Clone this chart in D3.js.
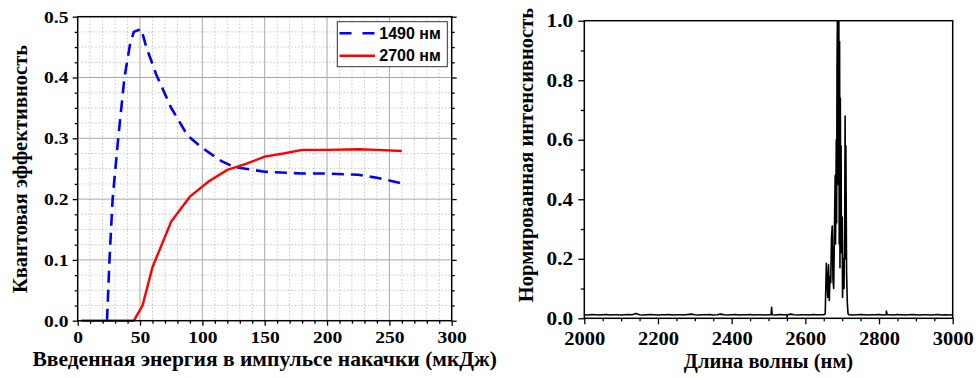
<!DOCTYPE html>
<html>
<head>
<meta charset="utf-8">
<script src="https://cdn.jsdelivr.net/npm/d3@7"></script>
<style>
  body { margin: 0; background: #fff; }
  svg text { font-family: 'Liberation Serif', 'Times New Roman', 'DejaVu Serif', serif; font-weight: 700; fill: #000; }
  svg .legend text { font-family: 'Liberation Sans', Arial, sans-serif; }
</style>
</head>
<body>
<svg id="chart" width="976" height="378"></svg>
<script>
// left panel: quantum efficiency vs pump energy
const energy1490 = [23.5, 25.5, 28, 32.5, 37.5, 42, 45, 51, 55, 63, 75, 88, 100, 115, 125, 150, 180, 200, 225, 240, 260];
const eff1490 = [0, 0.1, 0.2, 0.3, 0.4, 0.455, 0.475, 0.48, 0.45, 0.405, 0.35, 0.305, 0.284, 0.263, 0.253, 0.245, 0.242, 0.242, 0.24, 0.235, 0.226];
const energy2700 = [3, 45, 52, 60, 75, 90, 105, 120, 135, 150, 165, 180, 200, 225, 240, 260];
const eff2700 = [0, 0, 0.025, 0.088, 0.163, 0.204, 0.229, 0.248, 0.258, 0.27, 0.275, 0.281, 0.281, 0.282, 0.281, 0.279];
const legendLabels = ['1490 нм', '2700 нм'];

// right panel: normalized spectrum
const baseWlLeft = d3.range(2000, 2650, 10);
const baseIntLeft = [
  0.012, 0.011, 0.013, 0.012, 0.011, 0.012, 0.013, 0.011, 0.012, 0.012,
  0.011, 0.012, 0.013, 0.012, 0.016, 0.012, 0.011, 0.012, 0.013, 0.012,
  0.011, 0.012, 0.012, 0.013, 0.011, 0.012, 0.012, 0.011, 0.013, 0.014,
  0.012, 0.011, 0.012, 0.012, 0.013, 0.011, 0.012, 0.014, 0.012, 0.011,
  0.012, 0.013, 0.011, 0.012, 0.012, 0.013, 0.011, 0.012, 0.012, 0.011,
  0.012, 0.012, 0.011, 0.013, 0.012, 0.011, 0.014, 0.012, 0.011, 0.012,
  0.012, 0.011, 0.013, 0.012, 0.012,
];
const baseWlRight = d3.range(2720, 3001, 10);
const baseIntRight = [
  0.012, 0.011, 0.012, 0.013, 0.012, 0.011, 0.012, 0.012, 0.013, 0.011,
  0.012, 0.012, 0.011, 0.013, 0.012, 0.011, 0.012, 0.013, 0.012, 0.011,
  0.012, 0.012, 0.011, 0.012, 0.013, 0.011, 0.012, 0.011, 0.012,
];
const spikeWl = [2507, 2508.5, 2510, 2548, 2550, 2552, 2818, 2820, 2822];
const spikeInt = [0.012, 0.037, 0.012, 0.012, 0.004, 0.012, 0.012, 0.024, 0.012];
const peakWl = [2650, 2654, 2657, 2659, 2661, 2663, 2665, 2667, 2669, 2671, 2673, 2675, 2677, 2679, 2681, 2682,
  2684, 2685, 2686, 2687, 2688, 2689, 2690, 2691, 2692, 2693, 2694, 2695, 2696, 2697, 2698, 2700, 2701,
  2703, 2705, 2707, 2708, 2709, 2710, 2712, 2714, 2716, 2718];
const peakInt = [0.012, 0.015, 0.185, 0.12, 0.07, 0.18, 0.06, 0.14, 0.12, 0.27, 0.31, 0.13, 0.10, 0.30, 0.48, 0.25,
  0.60, 0.32, 0.85, 1.0, 0.45, 1.0, 0.92, 1.0, 0.25, 0.93, 0.17, 0.74, 0.30, 0.58, 0.22, 0.34, 0.07,
  0.20, 0.10, 0.35, 0.68, 0.20, 0.58, 0.15, 0.05, 0.015, 0.012];

const serif = "'Liberation Serif', 'Times New Roman', 'DejaVu Serif', serif";
const svg = d3.select('#chart');

function addTicks(g, axis, scaleX) {
  g.call(axis);
  g.attr('font-family', null).attr('font-size', null);
  g.select('.domain').remove();
  g.selectAll('.tick line').attr('stroke', '#000').attr('stroke-width', 1.3);
  g.selectAll('.tick text').attr('transform', `scale(${scaleX},1)`)
    .style('font-family', serif).style('font-weight', 700);
}

// ---------- left panel ----------
const L = { x: 77.7, y: 16.7, w: 374, h: 304 };
const xL = d3.scaleLinear().domain([0, 300]).range([L.x, L.x + L.w]);
const yL = d3.scaleLinear().domain([0, 0.5]).range([L.y + L.h, L.y]);

const xMinorL = d3.range(0, 301, 10).filter((d) => d % 50 !== 0);
const yMinorL = d3.range(0, 20).map((i) => i * 0.025).filter((d, i) => i % 4 !== 0);

const gridL = svg.append('g');
gridL.selectAll('.vminor').data(xMinorL).join('line')
  .attr('x1', (d) => xL(d)).attr('x2', (d) => xL(d))
  .attr('y1', L.y).attr('y2', L.y + L.h)
  .attr('stroke', '#c0c0c0').attr('stroke-width', 0.9).attr('stroke-dasharray', '1.5,2');
gridL.selectAll('.hminor').data(yMinorL).join('line')
  .attr('y1', (d) => yL(d)).attr('y2', (d) => yL(d))
  .attr('x1', L.x).attr('x2', L.x + L.w)
  .attr('stroke', '#c0c0c0').attr('stroke-width', 0.9).attr('stroke-dasharray', '1.5,2');
gridL.selectAll('.vmajor').data([50, 100, 150, 200, 250]).join('line')
  .attr('x1', (d) => xL(d)).attr('x2', (d) => xL(d))
  .attr('y1', L.y).attr('y2', L.y + L.h)
  .attr('stroke', '#a8a8a8').attr('stroke-width', 1);
gridL.selectAll('.hmajor').data([0.1, 0.2, 0.3, 0.4]).join('line')
  .attr('y1', (d) => yL(d)).attr('y2', (d) => yL(d))
  .attr('x1', L.x).attr('x2', L.x + L.w)
  .attr('stroke', '#a8a8a8').attr('stroke-width', 1);

const lineL = (xs, ys) => d3.line().x((d, i) => xL(xs[i])).y((d, i) => yL(ys[i]))(xs);

svg.append('path').attr('d', lineL(energy1490, eff1490))
  .attr('fill', 'none').attr('stroke', '#0000ff').attr('stroke-width', 2.6)
  .attr('stroke-dasharray', '12,7');
svg.append('path').attr('d', lineL(energy2700, eff2700))
  .attr('fill', 'none').attr('stroke', '#ff0000').attr('stroke-width', 2.4);

svg.append('rect').attr('x', L.x).attr('y', L.y).attr('width', L.w).attr('height', L.h)
  .attr('fill', 'none').attr('stroke', '#000').attr('stroke-width', 1.5);

addTicks(svg.append('g').attr('transform', `translate(0,${L.y + L.h})`),
  d3.axisBottom(xL).tickValues([0, 50, 100, 150, 200, 250, 300]).tickFormat(d3.format('d'))
    .tickSize(5).tickPadding(5), 1.15);
addTicks(svg.append('g').attr('transform', `translate(0,${L.y + L.h})`),
  d3.axisBottom(xL).tickValues(xMinorL).tickFormat('').tickSize(3), 1);
addTicks(svg.append('g').attr('transform', `translate(${L.x},0)`),
  d3.axisLeft(yL).tickValues([0, 0.1, 0.2, 0.3, 0.4, 0.5]).tickFormat(d3.format('.1f'))
    .tickSize(5).tickPadding(3), 1.15);
addTicks(svg.append('g').attr('transform', `translate(${L.x},0)`),
  d3.axisLeft(yL).tickValues(yMinorL).tickFormat('').tickSize(3), 1);
addTicks(svg.append('g').attr('transform', `translate(${L.x + L.w},0)`),
  d3.axisRight(yL).tickValues([0, 0.1, 0.2, 0.3, 0.4, 0.5]).tickFormat('').tickSize(5), 1);
addTicks(svg.append('g').attr('transform', `translate(${L.x + L.w},0)`),
  d3.axisRight(yL).tickValues(yMinorL).tickFormat('').tickSize(3), 1);
svg.selectAll('.tick text').style('font-size', '17px');

// legend
const legend = svg.append('g').attr('class', 'legend');
legend.append('rect').attr('x', 337.3).attr('y', 21.7).attr('width', 110).attr('height', 45)
  .attr('fill', '#fff').attr('stroke', '#333').attr('stroke-width', 1);
legend.append('line').attr('x1', 339.5).attr('x2', 375).attr('y1', 33.3).attr('y2', 33.3)
  .attr('stroke', '#0000ff').attr('stroke-width', 2.6).attr('stroke-dasharray', '12,11');
legend.append('line').attr('x1', 339.5).attr('x2', 375).attr('y1', 55.7).attr('y2', 55.7)
  .attr('stroke', '#ff0000').attr('stroke-width', 2.4);
legend.selectAll('text').data(legendLabels).join('text')
  .attr('x', 379.3).attr('y', (d, i) => 39 + i * 22.3)
  .style('font-size', '16px')
  .text((d) => d);

svg.append('text').attr('x', L.x + L.w / 2).attr('y', 366).attr('text-anchor', 'middle')
  .style('font-family', serif).style('font-size', '21.5px')
  .text('Введенная энергия в импульсе накачки (мкДж)');
svg.append('text').attr('transform', 'translate(27,169) rotate(-90)')
  .attr('text-anchor', 'middle').style('font-family', serif).style('font-size', '20.5px')
  .text('Квантовая эффективность');

// ---------- right panel ----------
const R = { x: 584.3, y: 20.7, w: 368.4, h: 297.6 };
const xR = d3.scaleLinear().domain([2000, 3000]).range([R.x, R.x + R.w]);
const yR = d3.scaleLinear().domain([0, 1]).range([R.y + R.h, R.y]);

const spectrum = baseWlLeft.map((w, i) => [w, baseIntLeft[i]])
  .concat(baseWlRight.map((w, i) => [w, baseIntRight[i]]))
  .concat(spikeWl.map((w, i) => [w, spikeInt[i]]))
  .concat(peakWl.map((w, i) => [w, peakInt[i]]))
  .sort((a, b) => a[0] - b[0]);

svg.append('path')
  .attr('d', d3.line().x((d) => xR(d[0])).y((d) => yR(d[1]))(spectrum))
  .attr('fill', 'none').attr('stroke', '#000').attr('stroke-width', 1.6)
  .attr('stroke-linejoin', 'round');

svg.append('rect').attr('x', R.x).attr('y', R.y).attr('width', R.w).attr('height', R.h)
  .attr('fill', 'none').attr('stroke', '#000').attr('stroke-width', 1.5);

const xMinorR = d3.range(2050, 3000, 50).filter((d) => d % 200 !== 0);
const gxR = svg.append('g').attr('transform', `translate(0,${R.y + R.h})`);
addTicks(gxR,
  d3.axisBottom(xR).tickValues(d3.range(2000, 3001, 200)).tickFormat(d3.format('d'))
    .tickSize(6).tickPadding(7), 1.08);
addTicks(svg.append('g').attr('transform', `translate(0,${R.y + R.h})`),
  d3.axisBottom(xR).tickValues(xMinorR).tickFormat('').tickSize(3), 1);
const gyR = svg.append('g').attr('transform', `translate(${R.x},0)`);
addTicks(gyR,
  d3.axisLeft(yR).tickValues([0, 0.2, 0.4, 0.6, 0.8, 1.0]).tickFormat(d3.format('.1f'))
    .tickSize(6).tickPadding(4), 1.12);
addTicks(svg.append('g').attr('transform', `translate(${R.x},0)`),
  d3.axisLeft(yR).tickValues([0.1, 0.3, 0.5, 0.7, 0.9]).tickFormat('').tickSize(3.5), 1);
gxR.selectAll('.tick text').style('font-size', '19px');
gyR.selectAll('.tick text').style('font-size', '19px');

svg.append('text').attr('x', R.x + R.w / 2).attr('y', 368).attr('text-anchor', 'middle')
  .style('font-family', serif).style('font-size', '20.5px').text('Длина волны (нм)');
svg.append('text').attr('transform', 'translate(533,155) rotate(-90)')
  .attr('text-anchor', 'middle').style('font-family', serif).style('font-size', '20.5px')
  .text('Нормированная интенсивность');
</script>
</body>
</html>
